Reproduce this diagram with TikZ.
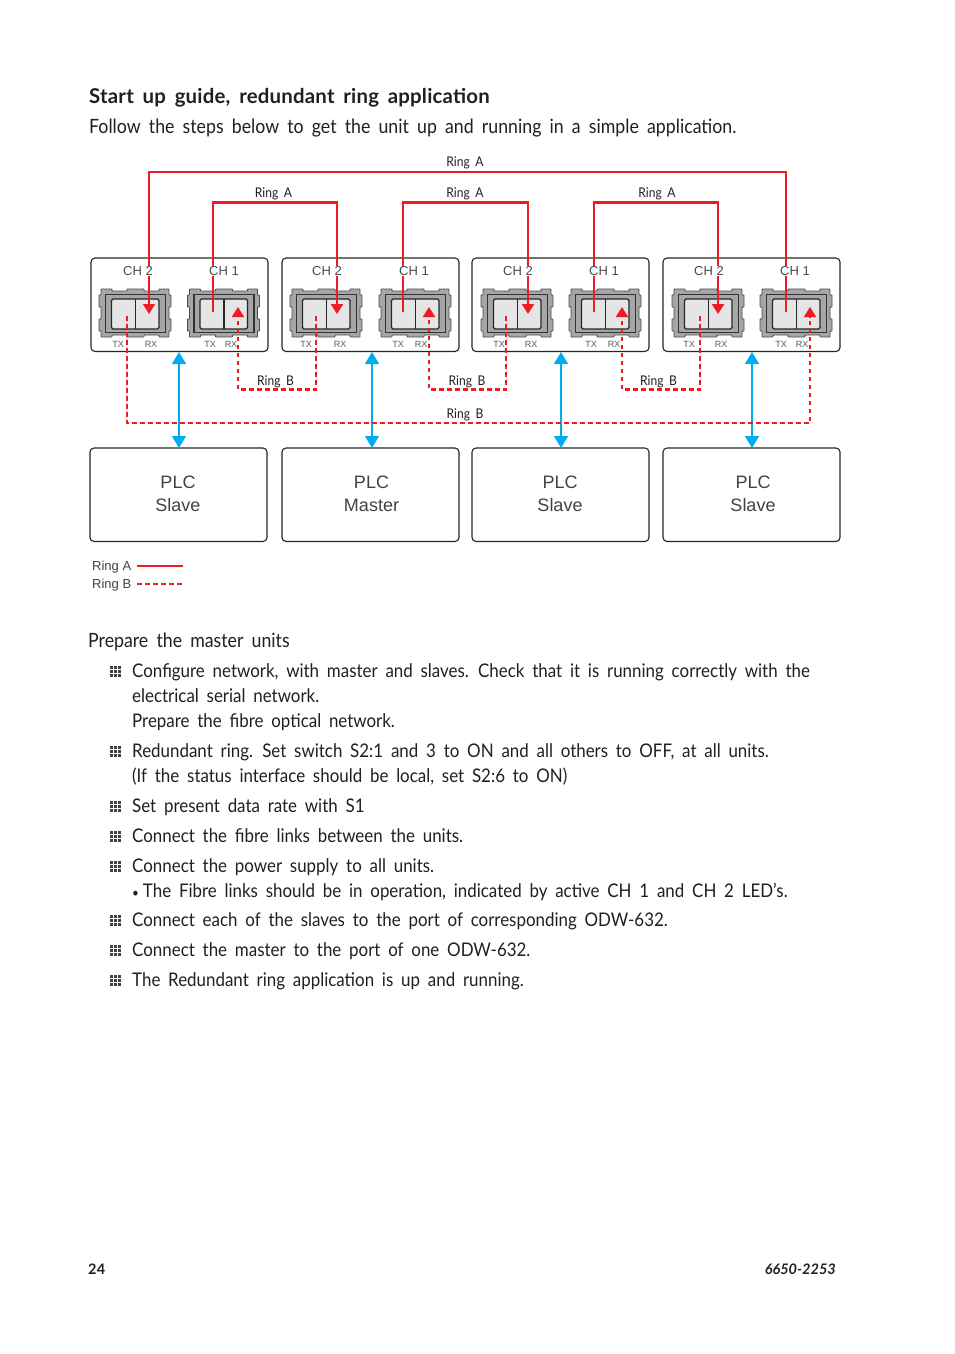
\documentclass[tikz,border=0pt]{standalone}
\usepackage{fontspec}
\setmainfont{Lato}[FakeStretch=0.9, WordSpace=1.8, BoldFeatures={FakeStretch=1, WordSpace=1.7, LetterSpace=1}, BoldItalicFeatures={FakeStretch=1, WordSpace=1}]
\newfontfamily\labelfont{Liberation Sans}
\usetikzlibrary{arrows.meta}
\definecolor{ringred}{HTML}{ED1C24}
\definecolor{linkblue}{HTML}{00AEEF}
\definecolor{inktext}{HTML}{231F20}
\tikzset{
    devicebox/.style={draw=black!85, line width=1.1pt, rounded corners=4pt, minimum width=177pt, minimum height=93.5pt, anchor=north west, inner sep=0pt, outer sep=0pt},
    plctext/.style={font=\labelfont\fontsize{18}{23}\selectfont, align=center, text=inktext!85, inner sep=0pt},
    ringA/.style={draw=ringred, line width=2.4pt},
    ringAouter/.style={draw=ringred, line width=1.5pt},
    ringB/.style={draw=ringred, line width=2.2pt, dash pattern=on 4.5pt off 3.5pt},
    ringBouter/.style={draw=ringred, line width=1.6pt, dash pattern=on 4.5pt off 3.5pt},
    rxtip/.style={-{Triangle[width=12pt,length=10pt]}},
    plclink/.style={draw=linkblue, line width=1.5pt, {Triangle[width=14pt,length=12pt]}-{Triangle[width=14pt,length=12pt]}},
    ringlabel/.style={font=\fontsize{13.4}{14}\selectfont, text=inktext, inner sep=0pt},
    chlabel/.style={font=\labelfont\fontsize{13}{14}\selectfont, text=black!70, fill=white, inner sep=0.5pt},
    portlabel/.style={font=\labelfont\fontsize{9}{10}\selectfont, text=black!65, inner sep=0pt},
    keylabel/.style={font=\labelfont\fontsize{13}{14}\selectfont, text=black!75, anchor=base west, inner sep=0pt},
    bodytext/.style={font=\fontsize{18.8}{24}\selectfont, text=inktext, anchor=base west, inner sep=0pt, yshift=-0.6pt},
    leadtext/.style={bodytext, font=\fontsize{19.7}{24}\selectfont},
    headtext/.style={font=\bfseries\fontsize{20.4}{24}\selectfont, text=inktext, anchor=base west, inner sep=0pt},
    footertext/.style={font=\bfseries\fontsize{14.5}{16}\selectfont, text=inktext, inner sep=0pt},
}
% fibre port, #1 and #2 are the left and top edge
\newcommand{\fibreport}[2]{
    \begin{scope}[shift={(#1,#2)}]
        \filldraw[fill=black!35, draw=black!70, line width=0.9pt, rounded corners=0.6pt]
            (2,0) -- (13,0) -- (13,2) -- (28,2) -- (28,0) -- (45,0) -- (45,2) -- (60,2) -- (60,0) -- (70,0)
            -- (70,6) -- (72,6) -- (72,18) -- (70,18) -- (70,30) -- (72,30) -- (72,42) -- (70,42) -- (70,48)
            -- (60,48) -- (60,46) -- (45,46) -- (45,48) -- (28,48) -- (28,46) -- (13,46) -- (13,48) -- (2,48)
            -- (2,42) -- (0,42) -- (0,30) -- (2,30) -- (2,18) -- (0,18) -- (0,6) -- (2,6) -- cycle;
        \draw[draw=black!80, line width=1.3pt] (6.5,5.5) rectangle (66.5,43.5);
        \filldraw[fill=black!10, draw=black!85, line width=1.3pt, rounded corners=1.5pt] (12.5,10) rectangle (60,40);
        \draw[draw=black!85, line width=1.2pt] (36.5,10) -- (36.5,40);
    \end{scope}
}
% small square of dots in front of each step
\newcommand{\stepmark}[1]{
    \foreach \dx in {0,4,8}
        \foreach \dy in {0,4,8}
            \fill[inktext!85] (110+\dx,#1-11+\dy) rectangle ++(3,3);
}
\begin{document}
\begin{tikzpicture}[x=1pt, y=-1pt]

    \useasboundingbox (0,0) rectangle (954,1354);
    \fill[white] (0,0) rectangle (954,1354);

    \node[headtext] (title) at (89,103) {Start up guide, redundant ring application};
    \node[leadtext] (intro) at (89,133) {Follow the steps below to get the unit up and running in a simple application.};

    % units, ports and the end points of the rings
    \foreach \i/\xdev/\xplc/\xtxt/\xlink/\ptwo/\pone/\txb/\rxa/\txa/\rxb/\tta/\rra/\ttb/\rrb/\txtplc in {
        1/91/90/178/179/99/187.5/127/149/213/238/118/151/210/231/Slave,
        2/282/282/371.5/372/290/379/316/337/403/429/306/340/398/421/Master,
        3/472/472/560/561/481/569/506/528/594/622/499/531/591/614/Slave,
        4/663/663/753/752/672/760/700/718/786/810/689/721/781/802/Slave}
    {
        \node[devicebox] (device\i) at (\xdev,258) {};
        \node[devicebox] (plc\i) at (\xplc,448) {};
        \node[plctext] (plctxt\i) at (\xtxt,494) {PLC\\\txtplc};
        \fibreport{\ptwo}{289}
        \fibreport{\pone}{289}
        \coordinate (txb\i) at (\txb,316);
        \coordinate (rxa\i) at (\rxa,314);
        \coordinate (txa\i) at (\txa,312);
        \coordinate (rxb\i) at (\rxb,307);
        \coordinate (link\i) at (\xlink,352);
        \node[portlabel] (txtwo\i) at (\tta,344) {TX};
        \node[portlabel] (rxtwo\i) at (\rra,344) {RX};
        \node[portlabel] (txone\i) at (\ttb,344) {TX};
        \node[portlabel] (rxone\i) at (\rrb,344) {RX};
        \draw[plclink] (link\i) -- (link\i |- plc\i.north);
    }

    \coordinate (levelouterA) at (0,172);
    \coordinate (levelA) at (0,202.5);
    \coordinate (levelB) at (0,389.5);
    \coordinate (levelouterB) at (0,423);

    % ring A
    \draw[ringA, rxtip] (txa1) -- (txa1 |- levelA) -- (rxa2 |- levelA) -- (rxa2);
    \draw[ringA, rxtip] (txa2) -- (txa2 |- levelA) -- (rxa3 |- levelA) -- (rxa3);
    \draw[ringA, rxtip] (txa3) -- (txa3 |- levelA) -- (rxa4 |- levelA) -- (rxa4);
    \draw[ringAouter, rxtip] (txa4) -- (txa4 |- levelouterA) -- (rxa1 |- levelouterA) -- (rxa1);

    % ring B
    \draw[ringB, rxtip] (txb2) -- (txb2 |- levelB) -- (rxb1 |- levelB) -- (rxb1);
    \draw[ringB, rxtip] (txb3) -- (txb3 |- levelB) -- (rxb2 |- levelB) -- (rxb2);
    \draw[ringB, rxtip] (txb4) -- (txb4 |- levelB) -- (rxb3 |- levelB) -- (rxb3);
    \draw[ringBouter, rxtip] (txb1) -- (txb1 |- levelouterB) -- (rxb4 |- levelouterB) -- (rxb4);

    \foreach \i/\xtwo/\xone in {1/138/224, 2/327/414, 3/518/604, 4/709/795}
    {
        \node[chlabel] (chtwo\i) at (\xtwo,271) {CH 2};
        \node[chlabel] (chone\i) at (\xone,271) {CH 1};
    }

    \node[ringlabel] (ringA0) at (465,162.5) {Ring A};
    \node[ringlabel] (ringA1) at (273.5,193.5) {Ring A};
    \node[ringlabel] (ringA2) at (465,193.5) {Ring A};
    \node[ringlabel] (ringA3) at (657,193.5) {Ring A};
    \node[ringlabel] (ringB1) at (275.5,381.5) {Ring B};
    \node[ringlabel] (ringB2) at (467,381.5) {Ring B};
    \node[ringlabel] (ringB3) at (658.5,381.5) {Ring B};
    \node[ringlabel, fill=white, inner sep=1pt] (ringB0) at (465,414.5) {Ring B};

    % key
    \node[keylabel] (keyA) at (92,570.5) {Ring A};
    \node[keylabel] (keyB) at (92,588.5) {Ring B};
    \coordinate (keyAstart) at (137,566);
    \coordinate (keyAend) at (183,566);
    \coordinate (keyBstart) at (137,584);
    \coordinate (keyBend) at (183,584);
    \draw[ringAouter] (keyAstart) -- (keyAend);
    \draw[ringBouter] (keyBstart) -- (keyBend);

    \node[leadtext] (prepare) at (88,647) {Prepare the master units};

    \foreach \y in {677,757,812,842,872,926,956,986}
    {
        \stepmark{\y}
    }

    \node[bodytext] (step1) at (132,677) {Configure network, with master and slaves. Check that it is running correctly with the};
    \node[bodytext] (step1b) at (132,702) {electrical serial network.};
    \node[bodytext] (step1c) at (132,727) {Prepare the fibre optical network.};
    \node[bodytext] (step2) at (132,757) {Redundant ring. Set switch S2:1 and 3 to ON and all others to OFF, at all units.};
    \node[bodytext] (step2b) at (132,782) {(If the status interface should be local, set S2:6 to ON)};
    \node[bodytext] (step3) at (132,812) {Set present data rate with S1};
    \node[bodytext] (step4) at (132,842) {Connect the fibre links between the units.};
    \node[bodytext] (step5) at (132,872) {Connect the power supply to all units.};
    \node[bodytext] (step5b) at (132,897) {{\fontsize{13}{14}\selectfont •}\hspace{4pt}The Fibre links should be in operation, indicated by active CH 1 and CH 2 LED’s.};
    \node[bodytext] (step6) at (132,926) {Connect each of the slaves to the port of corresponding ODW-632.};
    \node[bodytext] (step7) at (132,956) {Connect the master to the port of one ODW-632.};
    \node[bodytext] (step8) at (132,986) {The Redundant ring application is up and running.};

    \node[footertext, anchor=base west] (pageno) at (88,1274) {24};
    \node[footertext, anchor=base east, font=\bfseries\itshape\fontsize{14.5}{16}\selectfont] (docno) at (836,1274) {6650-2253};

\end{tikzpicture}
\end{document}
